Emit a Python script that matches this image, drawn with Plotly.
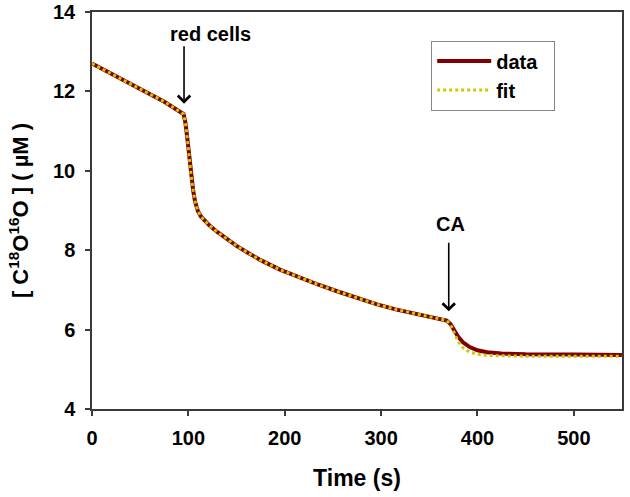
import plotly.graph_objects as go

time = [0, 25, 50, 75, 95, 97, 99, 101, 103, 105, 107, 110, 113, 117, 122, 130, 140, 150,
        160, 175, 195, 215, 235, 255, 275, 295, 315, 335, 355, 368, 372, 376, 380, 385,
        392, 400, 410, 425, 450, 500, 550]
data_vals = [12.70, 12.38, 12.06, 11.74, 11.43, 11.20, 10.80, 10.30, 9.85, 9.50, 9.22, 8.98,
             8.85, 8.74, 8.62, 8.46, 8.28, 8.11, 7.96, 7.75, 7.51, 7.31, 7.13, 6.96, 6.80,
             6.64, 6.51, 6.40, 6.30, 6.23, 6.14, 5.98, 5.82, 5.68, 5.56, 5.48, 5.43, 5.40,
             5.38, 5.37, 5.36]
fit_vals = [12.70, 12.38, 12.06, 11.74, 11.43, 11.20, 10.80, 10.30, 9.85, 9.50, 9.22, 8.98,
            8.85, 8.74, 8.62, 8.46, 8.28, 8.11, 7.96, 7.75, 7.51, 7.31, 7.13, 6.96, 6.80,
            6.64, 6.51, 6.40, 6.30, 6.23, 6.12, 5.90, 5.70, 5.54, 5.43, 5.38, 5.35, 5.34,
            5.33, 5.33, 5.33]
series_names = ["data", "fit"]

x_ticks = [0, 100, 200, 300, 400, 500]
y_ticks = [4, 6, 8, 10, 12, 14]

# annotations: (label, arrow time, tip value, tail value, text time, text value)
red_cells = ("red cells", 95.5, 11.69, 13.15, 122.5, 13.45)
ca = ("CA", 370.2, 6.46, 8.20, 372, 8.65)

FONT = "Arial, Liberation Sans, sans-serif"
AX = "#3a3a3a"
PAD = "\u00a0\u00a0"  # right padding inside the legend box

fig = go.Figure()
fig.add_trace(go.Scatter(x=time, y=data_vals, mode="lines", name=series_names[0] + PAD,
                         line=dict(color="#800000", width=4)))
fig.add_trace(go.Scatter(x=time, y=fit_vals, mode="lines", name=series_names[1] + PAD,
                         line=dict(color="#cdc800", width=3, dash="dot")))

for label, tx, ty, tail, lx, ly in (red_cells, ca):
    fig.add_annotation(x=tx, y=ty, ax=tx, ay=tail, xref="x", yref="y",
                       axref="x", ayref="y", text="", showarrow=True,
                       font=dict(size=1), borderpad=0,
                       arrowhead=4, arrowsize=1.5, arrowwidth=1.6, arrowcolor="#000000")
    fig.add_annotation(x=lx, y=ly, xref="x", yref="y", text=label, showarrow=False,
                       font=dict(family=FONT, size=20, color="#000000", weight="bold"))

fig.update_layout(
    width=630, height=497,
    margin=dict(l=92, r=8, t=12, b=88),
    paper_bgcolor="white", plot_bgcolor="white",
    font=dict(family=FONT, size=20, color="#000000", weight="bold"),
    showlegend=True,
    legend=dict(x=0.64, y=0.928, xanchor="left", yanchor="top",
                bordercolor="#888888", borderwidth=1, bgcolor="white",
                itemwidth=54, tracegroupgap=0,
                font=dict(family=FONT, size=20, color="#000000", weight="bold")),
    xaxis=dict(range=[0, 550], tickvals=x_ticks, ticks="outside", ticklen=5,
               tickwidth=1.5, tickcolor=AX, showline=True, linecolor=AX, linewidth=1.5,
               mirror=True, showgrid=False, zeroline=False, automargin=False,
               tickfont=dict(size=20, weight="bold"), ticklabelstandoff=5,
               ticklabeloverflow="allow",
               title=dict(text="Time (s)", font=dict(size=23, weight="bold"), standoff=22)),
    yaxis=dict(range=[4, 14], tickvals=y_ticks, ticks="outside", ticklen=5,
               tickwidth=1.5, tickcolor=AX, showline=True, linecolor=AX, linewidth=1.5,
               mirror=True, showgrid=False, zeroline=False, automargin=False,
               tickfont=dict(size=20, weight="bold"), ticklabelstandoff=6,
               ticklabeloverflow="allow",
               title=dict(text="[ C<sup>18</sup>O<sup>16</sup>O ] ( µM )",
                          font=dict(size=22, weight="bold"), standoff=18)),
)

fig.write_html("out.html", config={"displayModeBar": False},
               post_script="document.body.style.margin='0';")
